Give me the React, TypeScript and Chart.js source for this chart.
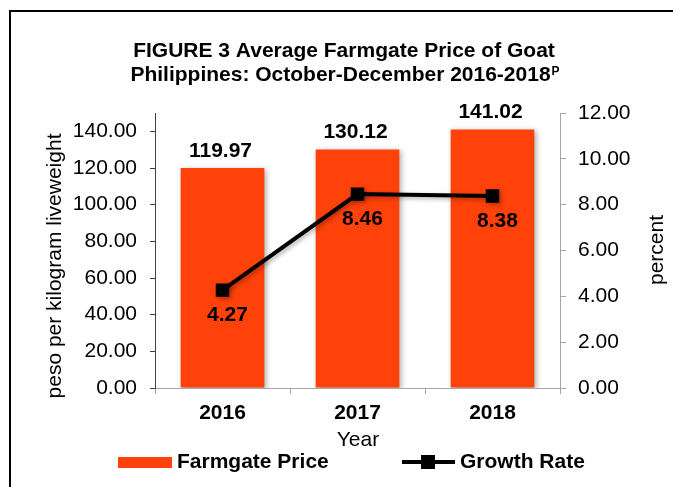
import React, { useEffect, useRef } from 'react';
import { Chart, registerables } from 'chart.js';

Chart.register(...registerables);

// ---- data ----
const years: string[] = ['2016', '2017', '2018'];
const farmgatePrice: number[] = [119.97, 130.12, 141.02];
const growthRate: number[] = [4.27, 8.46, 8.38];
const priceTicks: number[] = [0, 20, 40, 60, 80, 100, 120, 140];
const rateTicks: number[] = [0, 2, 4, 6, 8, 10, 12];
const priceAxisMax = 150;
const rateAxisMax = 12;

const titleLine1 = 'FIGURE 3 Average Farmgate Price of Goat';
const titleLine2 = 'Philippines: October-December 2016-2018';
const titleSup = 'P';
const priceLabel = 'Farmgate Price';
const rateLabel = 'Growth Rate';
const leftAxisTitle = 'peso per kilogram liveweight';
const rightAxisTitle = 'percent';
const xAxisTitle = 'Year';

const FONT = '"Liberation Sans", Arial, sans-serif';
const BAR_COLOR = '#FF410A';

const decorPlugin = {
  id: 'decor',
  beforeDraw(chart: any) {
    const ctx = chart.ctx;
    ctx.save();
    ctx.fillStyle = '#fff';
    ctx.fillRect(0, 0, chart.width, chart.height);
    ctx.strokeStyle = '#000';
    ctx.lineWidth = 2;
    ctx.strokeRect(10, 11, chart.width + 20, chart.height + 20);
    ctx.restore();
  },
  beforeDatasetDraw(chart: any, args: any) {
    const ctx = chart.ctx;
    ctx.save();
    if (args.index === 0) {
      ctx.shadowColor = 'rgba(0,0,0,0.35)';
      ctx.shadowBlur = 6;
      ctx.shadowOffsetX = 2;
      ctx.shadowOffsetY = 2;
    } else {
      ctx.shadowColor = 'rgba(0,0,0,0.3)';
      ctx.shadowBlur = 4;
      ctx.shadowOffsetX = 2;
      ctx.shadowOffsetY = 2;
    }
  },
  afterDatasetDraw(chart: any) {
    chart.ctx.restore();
  },
  afterDatasetsDraw(chart: any) {
    const ctx = chart.ctx;
    ctx.save();
    ctx.fillStyle = '#000';
    ctx.font = `bold 21px ${FONT}`;
    ctx.textAlign = 'center';
    ctx.textBaseline = 'middle';
    const barMeta = chart.getDatasetMeta(0);
    barMeta.data.forEach((el: any, i: number) => {
      ctx.fillText(farmgatePrice[i].toFixed(2), el.x - 2, el.y - 17);
    });
    const lineMeta = chart.getDatasetMeta(1);
    lineMeta.data.forEach((el: any, i: number) => {
      ctx.fillText(growthRate[i].toFixed(2), el.x + 5, el.y + 25);
    });
    ctx.restore();
  },
  afterDraw(chart: any) {
    const ctx = chart.ctx;
    ctx.save();
    ctx.fillStyle = '#000';
    // title
    ctx.font = `bold 21px ${FONT}`;
    ctx.textAlign = 'center';
    ctx.textBaseline = 'alphabetic';
    ctx.fillText(titleLine1, 344, 57);
    const w2 = ctx.measureText(titleLine2).width;
    ctx.font = `bold 12px ${FONT}`;
    const ws = ctx.measureText(titleSup).width;
    const start = 345 - (w2 + ws + 1) / 2;
    ctx.textAlign = 'left';
    ctx.font = `bold 21px ${FONT}`;
    ctx.fillText(titleLine2, start, 81);
    ctx.font = `bold 12px ${FONT}`;
    ctx.fillText(titleSup, start + w2 + 1, 75);

    // axis titles
    ctx.font = `21px ${FONT}`;
    ctx.textAlign = 'center';
    ctx.textBaseline = 'middle';
    ctx.fillText(xAxisTitle, 358, 440);
    ctx.save();
    ctx.translate(55, 266);
    ctx.rotate(-Math.PI / 2);
    ctx.fillText(leftAxisTitle, 0, 0);
    ctx.restore();
    ctx.save();
    ctx.translate(657, 250);
    ctx.rotate(-Math.PI / 2);
    ctx.fillText(rightAxisTitle, 0, 0);
    ctx.restore();

    // legend
    const ly = 462;
    ctx.fillStyle = BAR_COLOR;
    ctx.fillRect(118, ly - 5, 54, 11);
    ctx.strokeStyle = '#000';
    ctx.lineWidth = 4;
    ctx.beginPath();
    ctx.moveTo(402, ly);
    ctx.lineTo(455, ly);
    ctx.stroke();
    ctx.fillStyle = '#000';
    ctx.fillRect(428 - 7, ly - 7, 14, 14);
    ctx.font = `bold 21px ${FONT}`;
    ctx.textAlign = 'left';
    ctx.textBaseline = 'middle';
    ctx.fillText(priceLabel, 177, ly);
    ctx.fillText(rateLabel, 460, ly);
    ctx.restore();
  },
};

export default function App() {
  const ref = useRef<HTMLCanvasElement | null>(null);

  useEffect(() => {
    if (!ref.current) return;
    const chart = new Chart(ref.current, {
      type: 'bar',
      data: {
        labels: years,
        datasets: [
          {
            type: 'bar',
            label: priceLabel,
            data: farmgatePrice,
            backgroundColor: BAR_COLOR,
            borderWidth: 0,
            barPercentage: 0.62,
            categoryPercentage: 1,
            yAxisID: 'y',
            order: 1,
          },
          {
            type: 'line',
            label: rateLabel,
            data: growthRate,
            borderColor: '#000',
            borderWidth: 4,
            pointStyle: 'rect',
            pointRadius: 9.5,
            pointBackgroundColor: '#000',
            pointBorderWidth: 0,
            tension: 0,
            yAxisID: 'y1',
            order: 0,
          } as any,
        ],
      },
      options: {
        responsive: false,
        devicePixelRatio: 1,
        animation: false,
        layout: { padding: { left: 0, right: 0, top: 113, bottom: 0 } },
        plugins: {
          legend: { display: false },
          title: { display: false },
          tooltip: { enabled: false },
        },
        scales: {
          x: {
            offset: true,
            grid: { offset: true, drawOnChartArea: false, drawTicks: true, tickLength: 6, color: '#A6A6A6' },
            border: { color: '#A6A6A6', width: 1 },
            ticks: { color: '#000', font: { family: FONT, size: 21, weight: 'bold' }, padding: 7, maxRotation: 0 },
            afterFit: (s: any) => {
              s.height = 99;
              s.paddingLeft = 0;
              s.paddingRight = 0;
            },
          },
          y: {
            position: 'left',
            min: 0,
            max: priceAxisMax,
            grid: { drawOnChartArea: false, drawTicks: true, tickLength: 5, color: '#404040' },
            border: { color: '#404040', width: 1 },
            ticks: {
              color: '#000',
              font: { family: FONT, size: 21 },
              padding: 13,
              callback: (v: any) => Number(v).toFixed(2),
            },
            afterBuildTicks: (s: any) => {
              s.ticks = priceTicks.map((v) => ({ value: v }));
            },
            afterFit: (s: any) => {
              s.width = 155;
              s.paddingTop = 0;
              s.paddingBottom = 0;
            },
          },
          y1: {
            position: 'right',
            min: 0,
            max: rateAxisMax,
            grid: { drawOnChartArea: false, drawTicks: true, tickLength: 6, color: '#A6A6A6' },
            border: { color: '#A6A6A6', width: 1 },
            ticks: {
              color: '#000',
              font: { family: FONT, size: 21 },
              padding: 12,
              callback: (v: any) => Number(v).toFixed(2),
            },
            afterBuildTicks: (s: any) => {
              s.ticks = rateTicks.map((v) => ({ value: v }));
            },
            afterFit: (s: any) => {
              s.width = 113;
              s.paddingTop = 0;
              s.paddingBottom = 0;
            },
          },
        },
      } as any,
      plugins: [decorPlugin],
    });
    return () => chart.destroy();
  }, []);

  return (
    <div style={{ position: 'absolute', left: 0, top: 0, width: 673, height: 487 }}>
      <canvas ref={ref} width={673} height={487} style={{ display: 'block', width: 673, height: 487 }} />
    </div>
  );
}
